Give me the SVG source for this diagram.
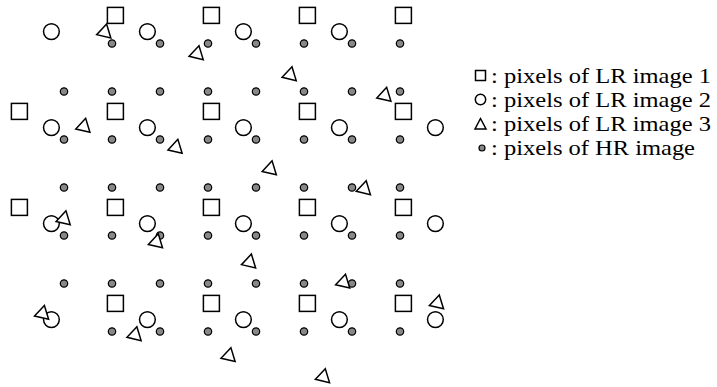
<svg xmlns="http://www.w3.org/2000/svg" xmlns:xlink="http://www.w3.org/1999/xlink" width="717" height="387" viewBox="0 0 717 387">
<style>
.s{fill:#fff;stroke:#000;stroke-width:1.5}
.d{fill:#888;stroke:#000;stroke-width:1.2}
.t{font-family:"Liberation Serif","Times New Roman",serif;font-size:22px;fill:#000}
</style>
<defs>
<rect id="sq" x="-8" y="-8" width="16" height="16"/>
<circle id="ci" r="7.9"/>
<polygon id="tri" points="0,-8.37 -7.25,4.19 7.25,4.19" transform="rotate(13)"/>
<circle id="dot" r="3.7"/>
</defs>
<rect width="717" height="387" fill="#fff"/>
<g id="hr-pixels" class="d">
<use href="#dot" x="112" y="43.5"/><use href="#dot" x="160" y="43.5"/><use href="#dot" x="208" y="43.5"/><use href="#dot" x="256" y="43.5"/><use href="#dot" x="304" y="43.5"/><use href="#dot" x="352" y="43.5"/><use href="#dot" x="400" y="43.5"/>
<use href="#dot" x="64" y="91.5"/><use href="#dot" x="112" y="91.5"/><use href="#dot" x="160" y="91.5"/><use href="#dot" x="208" y="91.5"/><use href="#dot" x="256" y="91.5"/><use href="#dot" x="304" y="91.5"/><use href="#dot" x="352" y="91.5"/><use href="#dot" x="400" y="91.5"/>
<use href="#dot" x="64" y="139.5"/><use href="#dot" x="112" y="139.5"/><use href="#dot" x="160" y="139.5"/><use href="#dot" x="208" y="139.5"/><use href="#dot" x="256" y="139.5"/><use href="#dot" x="304" y="139.5"/><use href="#dot" x="352" y="139.5"/><use href="#dot" x="400" y="139.5"/>
<use href="#dot" x="64" y="187.5"/><use href="#dot" x="112" y="187.5"/><use href="#dot" x="160" y="187.5"/><use href="#dot" x="208" y="187.5"/><use href="#dot" x="256" y="187.5"/><use href="#dot" x="304" y="187.5"/><use href="#dot" x="352" y="187.5"/><use href="#dot" x="400" y="187.5"/>
<use href="#dot" x="64" y="235.5"/><use href="#dot" x="112" y="235.5"/><use href="#dot" x="160" y="235.5"/><use href="#dot" x="208" y="235.5"/><use href="#dot" x="256" y="235.5"/><use href="#dot" x="304" y="235.5"/><use href="#dot" x="352" y="235.5"/><use href="#dot" x="400" y="235.5"/>
<use href="#dot" x="64" y="283.5"/><use href="#dot" x="112" y="283.5"/><use href="#dot" x="160" y="283.5"/><use href="#dot" x="208" y="283.5"/><use href="#dot" x="256" y="283.5"/><use href="#dot" x="304" y="283.5"/><use href="#dot" x="352" y="283.5"/><use href="#dot" x="400" y="283.5"/>
<use href="#dot" x="112" y="331.5"/><use href="#dot" x="160" y="331.5"/><use href="#dot" x="208" y="331.5"/><use href="#dot" x="256" y="331.5"/><use href="#dot" x="304" y="331.5"/><use href="#dot" x="352" y="331.5"/><use href="#dot" x="400" y="331.5"/>
</g>
<g id="lr1-squares" class="s">
<use href="#sq" x="115.4" y="15.4"/><use href="#sq" x="211.4" y="15.4"/><use href="#sq" x="307.4" y="15.4"/><use href="#sq" x="403.4" y="15.4"/>
<use href="#sq" x="19.4" y="111.4"/><use href="#sq" x="115.4" y="111.4"/><use href="#sq" x="211.4" y="111.4"/><use href="#sq" x="307.4" y="111.4"/><use href="#sq" x="403.4" y="111.4"/>
<use href="#sq" x="19.4" y="207.4"/><use href="#sq" x="115.4" y="207.4"/><use href="#sq" x="211.4" y="207.4"/><use href="#sq" x="307.4" y="207.4"/><use href="#sq" x="403.4" y="207.4"/>
<use href="#sq" x="115.4" y="303.4"/><use href="#sq" x="211.4" y="303.4"/><use href="#sq" x="307.4" y="303.4"/><use href="#sq" x="403.4" y="303.4"/>
</g>
<g id="lr2-circles" class="s">
<use href="#ci" x="51.4" y="31.6"/><use href="#ci" x="147.4" y="31.6"/><use href="#ci" x="243.4" y="31.6"/><use href="#ci" x="339.4" y="31.6"/>
<use href="#ci" x="51.4" y="127.6"/><use href="#ci" x="147.4" y="127.6"/><use href="#ci" x="243.4" y="127.6"/><use href="#ci" x="339.4" y="127.6"/><use href="#ci" x="435.4" y="127.6"/>
<use href="#ci" x="51.4" y="223.6"/><use href="#ci" x="147.4" y="223.6"/><use href="#ci" x="243.4" y="223.6"/><use href="#ci" x="339.4" y="223.6"/><use href="#ci" x="435.4" y="223.6"/>
<use href="#ci" x="51.4" y="319.6"/><use href="#ci" x="147.4" y="319.6"/><use href="#ci" x="243.4" y="319.6"/><use href="#ci" x="339.4" y="319.6"/><use href="#ci" x="435.4" y="319.6"/>
</g>
<g id="lr3-triangles" class="s">
<use href="#tri" x="104.7" y="32.2"/><use href="#tri" x="197.1" y="53.9"/><use href="#tri" x="290.1" y="74.9"/><use href="#tri" x="384.8" y="95.5"/>
<use href="#tri" x="83.8" y="126.5"/><use href="#tri" x="176" y="147.5"/><use href="#tri" x="270.2" y="169"/><use href="#tri" x="364.3" y="188.9"/>
<use href="#tri" x="64.1" y="219"/><use href="#tri" x="156.4" y="242"/><use href="#tri" x="249.5" y="262.2"/><use href="#tri" x="343.6" y="282.3"/><use href="#tri" x="437.4" y="303.1"/>
<use href="#tri" x="42.5" y="313.6"/><use href="#tri" x="135" y="334.9"/><use href="#tri" x="229" y="355.8"/><use href="#tri" x="323.4" y="376.9"/>
</g>
<g id="legend">
<g id="legend-lr1"><rect class="s" x="475.5" y="70.5" width="10" height="10"/><text class="t" x="491" y="83" textLength="220" lengthAdjust="spacingAndGlyphs">: pixels of LR image 1</text></g>
<g id="legend-lr2"><circle class="s" cx="480.5" cy="99.5" r="5.2"/><text class="t" x="491" y="107" textLength="220" lengthAdjust="spacingAndGlyphs">: pixels of LR image 2</text></g>
<g id="legend-lr3"><polygon class="s" points="480.5,118.5 475,129 486,129"/><text class="t" x="491" y="131" textLength="220" lengthAdjust="spacingAndGlyphs">: pixels of LR image 3</text></g>
<g id="legend-hr"><circle class="d" cx="482" cy="148" r="3"/><text class="t" x="491" y="155" textLength="204" lengthAdjust="spacingAndGlyphs">: pixels of HR image</text></g>
</g>
</svg>
